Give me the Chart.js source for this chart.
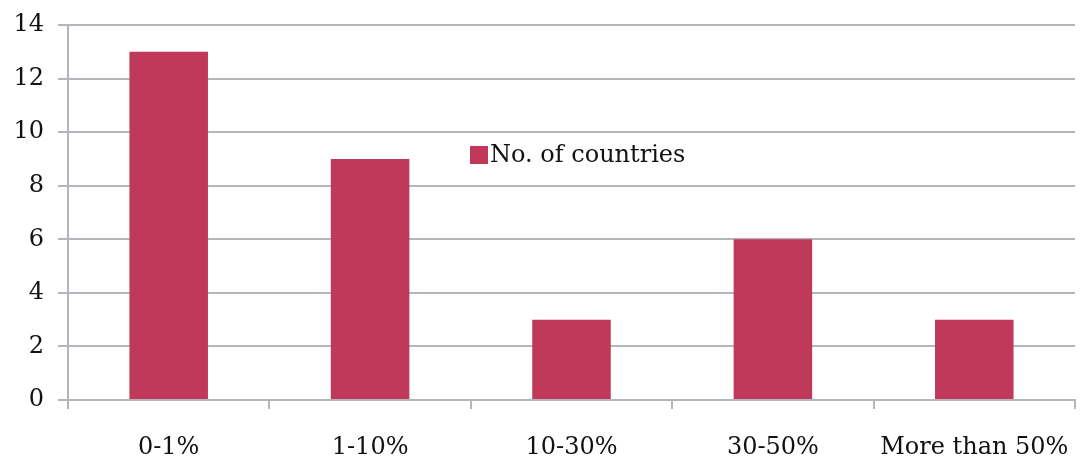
<!DOCTYPE html>
<html>
<head>
<meta charset="utf-8">
<script src="https://cdn.jsdelivr.net/npm/chart.js@4.4.0/dist/chart.umd.min.js"></script>
<style>
  html, body { margin: 0; padding: 0; background: #fff; }
  #wrap { width: 1083px; height: 459px; position: relative; }
</style>
</head>
<body>
<div id="wrap"><canvas id="chart"></canvas></div>
<script>
// data
const categories = ['0-1%', '1-10%', '10-30%', '30-50%', 'More than 50%'];
const countries = [13, 9, 3, 6, 3];
const seriesLabel = 'No. of countries';
const yTicks = [0, 2, 4, 6, 8, 10, 12, 14];

const barColor = '#C0395B';
const gridColor = '#B3B7BB';
const fontFamily = '"DejaVu Serif", "Liberation Serif", serif';

// legend floats inside the plot, like the original
const floatingLegend = {
    id: 'floatingLegend',
    afterDraw(chart) {
        const ctx = chart.ctx;
        const ds = chart.data.datasets[0];
        const x = 470, y = 155;
        ctx.save();
        ctx.fillStyle = ds.backgroundColor;
        ctx.fillRect(x, y - 9, 18, 18);
        ctx.fillStyle = '#111';
        ctx.font = '24px ' + fontFamily;
        ctx.textBaseline = 'middle';
        ctx.fillText(ds.label, x + 20, y + 1);
        ctx.restore();
    }
};

new Chart(document.getElementById('chart'), {
    type: 'bar',
    data: {
        labels: categories,
        datasets: [{
            label: seriesLabel,
            data: countries,
            backgroundColor: barColor,
            categoryPercentage: 1,
            barPercentage: 0.39
        }]
    },
    options: {
        responsive: true,
        maintainAspectRatio: false,
        animation: false,
        layout: { padding: 0 },
        plugins: {
            legend: { display: false },
            tooltip: { enabled: false }
        },
        scales: {
            x: {
                afterFit: (s) => { s.height = 59; s.paddingLeft = 0; s.paddingRight = 8; },
                grid: { drawOnChartArea: false, color: gridColor, lineWidth: 2, tickLength: 9 },
                border: { color: gridColor, width: 2 },
                ticks: { color: '#111', font: { family: fontFamily, size: 24 }, padding: 24, maxRotation: 0 }
            },
            y: {
                min: 0,
                max: 14,
                afterFit: (s) => { s.width = 68; s.paddingTop = 25; },
                afterBuildTicks: (s) => { s.ticks = yTicks.map(v => ({ value: v })); },
                grid: { color: gridColor, lineWidth: 2, tickLength: 10 },
                border: { color: gridColor, width: 2 },
                ticks: { color: '#111', font: { family: fontFamily, size: 24 }, padding: 14 }
            }
        }
    },
    plugins: [floatingLegend]
});
</script>
</body>
</html>
